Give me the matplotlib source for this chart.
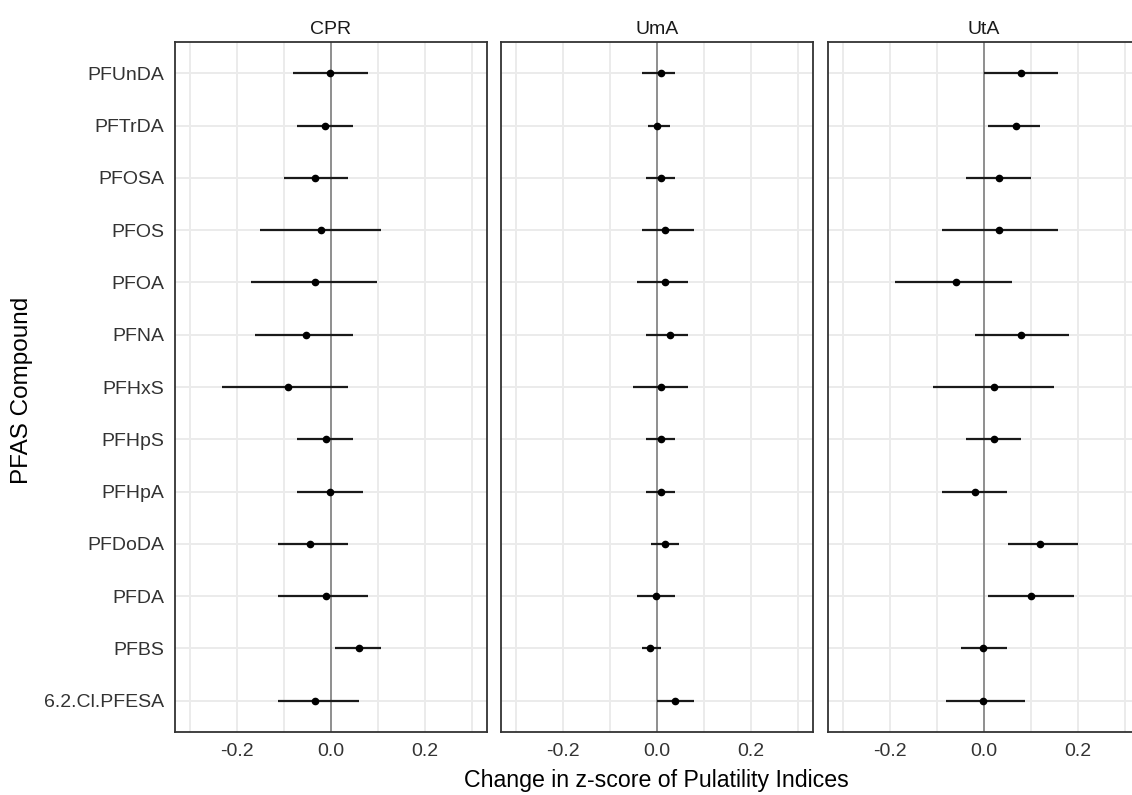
"""
PFAS forest plot, three panels
"""
import numpy as np
import matplotlib
matplotlib.use("Agg")
import matplotlib.pyplot as plt

plt.rcParams['font.family'] = ['Liberation Sans', 'DejaVu Sans']

compounds = ["PFUnDA", "PFTrDA", "PFOSA", "PFOS", "PFOA", "PFNA", "PFHxS",
             "PFHpS", "PFHpA", "PFDoDA", "PFDA", "PFBS", "6.2.Cl.PFESA"]
panels = ["CPR", "UmA", "UtA"]

# estimates and 95% CI, same order as compounds
cpr_est = [-0.002, -0.012, -0.035, -0.021, -0.035, -0.054, -0.092,
           -0.011, -0.003, -0.044, -0.011, 0.060, -0.034]
cpr_lo = [-0.081, -0.072, -0.100, -0.152, -0.171, -0.161, -0.232,
          -0.072, -0.072, -0.113, -0.113, 0.009, -0.113]
cpr_hi = [0.078, 0.046, 0.037, 0.107, 0.097, 0.046, 0.037,
          0.046, 0.069, 0.037, 0.078, 0.107, 0.059]

uma_est = [0.008, 0.001, 0.008, 0.018, 0.018, 0.028, 0.008,
           0.008, 0.008, 0.018, -0.002, -0.014, 0.038]
uma_lo = [-0.032, -0.020, -0.023, -0.032, -0.042, -0.023, -0.051,
          -0.023, -0.023, -0.013, -0.042, -0.032, 0.001]
uma_hi = [0.038, 0.028, 0.038, 0.079, 0.067, 0.067, 0.067,
          0.038, 0.038, 0.047, 0.038, 0.008, 0.079]

uta_est = [0.078, 0.069, 0.031, 0.031, -0.059, 0.078, 0.021,
           0.021, -0.020, 0.120, 0.101, -0.003, -0.003]
uta_lo = [0.001, 0.009, -0.039, -0.090, -0.189, -0.020, -0.109,
          -0.039, -0.090, 0.051, 0.009, -0.049, -0.080]
uta_hi = [0.158, 0.119, 0.100, 0.158, 0.059, 0.180, 0.149,
          0.078, 0.050, 0.200, 0.191, 0.050, 0.088]

data = {"CPR": (cpr_est, cpr_lo, cpr_hi),
        "UmA": (uma_est, uma_lo, uma_hi),
        "UtA": (uta_est, uta_lo, uta_hi)}

W, H = 1132, 795
fig = plt.figure(figsize=(W / 100, H / 100), dpi=100)

lefts = [175, 501, 828]
pw = 312
top, bot = 42, 732
ypos = np.arange(len(compounds))[::-1] + 1

for i, name in enumerate(panels):
    ax = fig.add_axes([lefts[i] / W, 1 - bot / H, pw / W, (bot - top) / H])
    est, lo, hi = [np.array(v) for v in data[name]]
    ax.set_xlim(-0.332, 0.332)
    ax.set_ylim(0.4, len(compounds) + 0.6)
    ax.set_xticks(np.arange(-0.3, 0.31, 0.1), minor=True)
    ax.set_xticks([-0.2, 0.0, 0.2])
    ax.set_xticklabels(["-0.2", "0.0", "0.2"])
    ax.set_yticks(ypos)
    ax.grid(True, which="both", color="#ebebeb", linewidth=1.4, zorder=0)
    ax.set_axisbelow(True)
    ax.axvline(0, color="#808080", linewidth=1.2, zorder=1)
    ax.hlines(ypos, lo, hi, color="#1a1a1a", linewidth=1.6, zorder=2)
    ax.plot(est, ypos, "o", color="black", markersize=4.5, zorder=3)
    ax.tick_params(which="both", length=0, labelsize=14, colors="#333333",
                   pad=8)
    if i == 0:
        ax.set_yticklabels(compounds)
    else:
        ax.set_yticklabels([])
    for s in ax.spines.values():
        s.set_color("#333333")
        s.set_linewidth(1.3)
    ax.set_title(name, fontsize=14, pad=6, color="#1a1a1a")

fig.text(656 / W, 1 - 780 / H, "Change in z-score of Pulatility Indices",
         ha="center", va="center", fontsize=16.7)
fig.text(22 / W, 1 - 390 / H, "PFAS Compound", rotation=90,
         ha="center", va="center", fontsize=17.5)

fig.savefig("out.png", dpi=100)
